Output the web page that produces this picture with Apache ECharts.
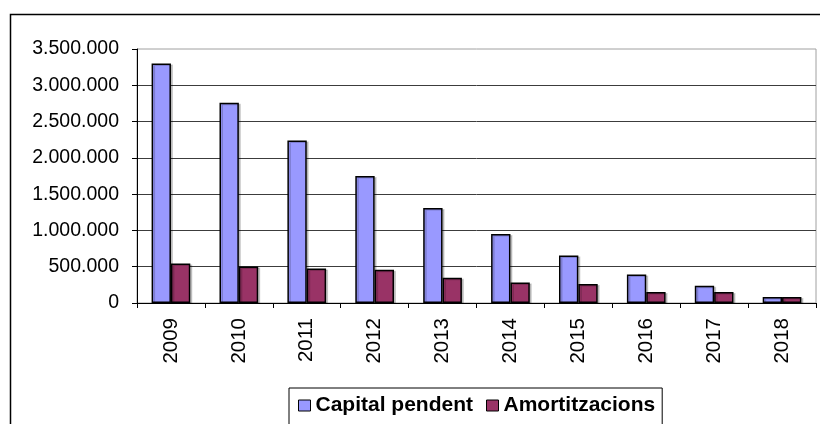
<!DOCTYPE html>
<html>
<head>
<meta charset="utf-8">
<script src="https://cdn.jsdelivr.net/npm/echarts@6/dist/echarts.min.js"></script>
<style>
  html, body { margin: 0; padding: 0; background: #fff; }
  #chart { width: 820px; height: 424px; }
</style>
</head>
<body>
<div id="chart"></div>
<script>
// Years of the repayment schedule
const years = ['2009', '2010', '2011', '2012', '2013', '2014', '2015', '2016', '2017', '2018'];
// Outstanding capital at each year
const capitalPendent = [3300000, 2760000, 2240000, 1750000, 1310000, 950000, 656000, 394000, 238000, 83000];
// Yearly repayments
const amortitzacions = [545000, 504000, 477000, 459000, 348000, 284000, 262000, 152000, 152000, 83000];
// Value axis range
const axisMin = 0;
const axisMax = 3500000;
const axisStep = 500000;

const FONT = "'Liberation Sans', Arial, sans-serif";

function dotThousands(v) {
  return String(Math.round(v)).replace(/\B(?=(\d{3})+(?!\d))/g, '.');
}

const chart = echarts.init(document.getElementById('chart'), null, { renderer: 'canvas' });

const barStyle = {
  borderColor: '#000',
  borderWidth: 1.5,
  shadowColor: 'rgba(0,0,0,0.18)',
  shadowOffsetX: 2,
  shadowOffsetY: 1,
  shadowBlur: 0
};

chart.setOption({
  animation: false,
  backgroundColor: '#fff',
  textStyle: { fontFamily: FONT },
  graphic: [{
    type: 'rect',
    silent: true,
    shape: { x: 10.5, y: 14.5, width: 840, height: 440 },
    style: { fill: 'none', stroke: '#000', lineWidth: 1.5 }
  }],
  grid: {
    left: 137,
    right: 4,
    top: 49,
    bottom: 121,
    show: true,
    borderColor: '#a0a0a0',
    borderWidth: 1,
    backgroundColor: 'transparent',
    containLabel: false
  },
  legend: {
    left: 289,
    top: 388,
    padding: [7, 7, 30, 9],
    borderColor: '#000',
    borderWidth: 1,
    itemWidth: 12,
    itemHeight: 11,
    itemGap: 13,
    icon: 'rect',
    itemStyle: { borderColor: '#000', borderWidth: 1 },
    textStyle: { fontFamily: FONT, fontSize: 21, fontWeight: 'bold', color: '#000' },
    data: ['Capital pendent', 'Amortitzacions']
  },
  xAxis: {
    type: 'category',
    data: years,
    boundaryGap: true,
    axisLine: { show: true, lineStyle: { color: '#000', width: 1 } },
    axisTick: { show: true, length: 5, inside: false, lineStyle: { color: '#000' } },
    axisLabel: {
      rotate: 90,
      margin: 15,
      fontFamily: FONT,
      fontSize: 20.5,
      color: '#000'
    },
    splitLine: { show: false }
  },
  yAxis: {
    type: 'value',
    min: axisMin,
    max: axisMax,
    interval: axisStep,
    axisLine: { show: true, lineStyle: { color: '#000', width: 1 } },
    axisTick: { show: true, length: 5, inside: false, lineStyle: { color: '#000' } },
    axisLabel: {
      margin: 18,
      fontFamily: FONT,
      fontSize: 19.5,
      color: '#000',
      formatter: dotThousands
    },
    splitLine: {
      show: true,
      showMinLine: false,
      showMaxLine: false,
      lineStyle: { color: '#3c3c3c', width: 1 }
    }
  },
  series: [
    {
      name: 'Capital pendent',
      type: 'bar',
      data: capitalPendent,
      barGap: '0%',
      barCategoryGap: '43%',
      itemStyle: Object.assign({ color: '#9999ff' }, barStyle)
    },
    {
      name: 'Amortitzacions',
      type: 'bar',
      data: amortitzacions,
      barGap: '0%',
      barCategoryGap: '43%',
      itemStyle: Object.assign({ color: '#993366' }, barStyle)
    }
  ]
});
</script>
</body>
</html>
